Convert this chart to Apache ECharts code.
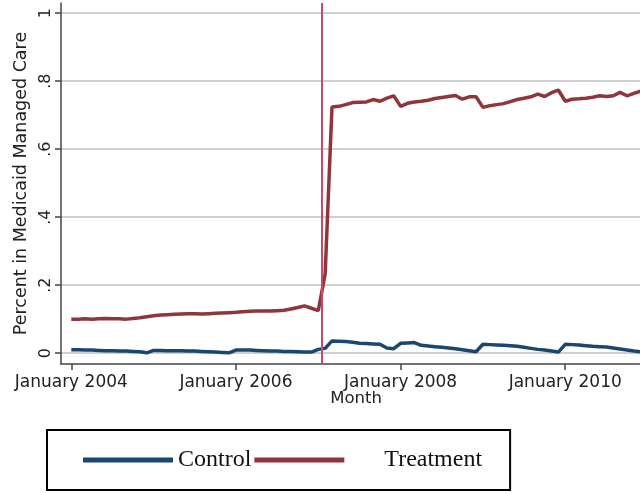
<!DOCTYPE html>
<html>
<head>
<meta charset="utf-8">
<script src="https://cdn.jsdelivr.net/npm/echarts@6/dist/echarts.min.js"></script>
<style>
  html, body { margin: 0; padding: 0; background: #fff; }
  #main { width: 640px; height: 493px; }
</style>
</head>
<body>
<div id="main"></div>
<script>
// month index: 0 = January 2004 ... 83 = December 2010
var control = [
  0.010, 0.010, 0.009, 0.009, 0.008, 0.007, 0.007, 0.006, 0.006, 0.005, 0.004, 0.001,
  0.008, 0.008, 0.007, 0.007, 0.007, 0.006, 0.006, 0.005, 0.004, 0.003, 0.002, 0.001,
  0.009, 0.009, 0.009, 0.008, 0.007, 0.006, 0.006, 0.005, 0.005, 0.004, 0.003, 0.003,
  0.011, 0.014, 0.036, 0.035, 0.034, 0.032, 0.029, 0.028, 0.027, 0.026, 0.015, 0.013,
  0.029, 0.030, 0.031, 0.023, 0.021, 0.019, 0.017, 0.015, 0.013, 0.010, 0.007, 0.004,
  0.026, 0.025, 0.024, 0.023, 0.022, 0.020, 0.017, 0.014, 0.011, 0.009, 0.006, 0.003,
  0.026, 0.025, 0.024, 0.022, 0.020, 0.019, 0.018, 0.015, 0.012, 0.009, 0.006, 0.004
];
var treatment = [
  0.100, 0.100, 0.101, 0.100, 0.101, 0.102, 0.101, 0.101, 0.100, 0.102, 0.104, 0.107,
  0.110, 0.112, 0.113, 0.114, 0.115, 0.116, 0.116, 0.115, 0.116, 0.117, 0.118, 0.119,
  0.120, 0.122, 0.123, 0.124, 0.124, 0.124, 0.125, 0.126, 0.130, 0.134, 0.139, 0.132,
  0.125, 0.232, 0.724, 0.726, 0.731, 0.737, 0.738, 0.739, 0.746, 0.741, 0.750, 0.757,
  0.726, 0.735, 0.739, 0.741, 0.744, 0.749, 0.752, 0.755, 0.758, 0.747, 0.754, 0.754,
  0.723, 0.728, 0.731, 0.734, 0.740, 0.746, 0.750, 0.754, 0.762, 0.755, 0.766, 0.774,
  0.741, 0.747, 0.748, 0.750, 0.753, 0.757, 0.755, 0.757, 0.767, 0.757, 0.764, 0.771
];
var xTickValues = [0, 24, 48, 72];
var xTickLabels = ['January 2004', 'January 2006', 'January 2008', 'January 2010'];
var yTickValues = [0, 0.2, 0.4, 0.6, 0.8, 1];
var yTickLabels = ['0', '.2', '.4', '.6', '.8', '1'];
var policyMonth = 36.5;

function pairs(arr) {
  return arr.map(function (v, i) { return [i, v]; });
}

var chart = echarts.init(document.getElementById('main'));
var axisFont = 'DejaVu Sans';

chart.setOption({
  animation: false,
  // plot region runs a little past the right edge, as in the original (cropped) figure
  grid: { left: 61, width: 590, top: 3, bottom: 129, outerBoundsMode: 'none', containLabel: false },
  xAxis: {
    type: 'value',
    min: -1.5,
    max: 84.5,
    name: 'Month',
    nameLocation: 'middle',
    nameMoveOverlap: false,
    nameGap: 26,
    nameTextStyle: { fontFamily: axisFont, fontSize: 16.5, color: '#222' },
    axisLine: { onZero: false, lineStyle: { color: '#444', width: 1.5 } },
    axisTick: { customValues: xTickValues, length: 6, lineStyle: { color: '#444', width: 1.5 } },
    axisLabel: {
      customValues: xTickValues,
      margin: 10,
      fontFamily: axisFont, fontSize: 17, color: '#222',
      formatter: function (v) { return xTickLabels[xTickValues.indexOf(v)] || ''; }
    },
    splitLine: { show: false }
  },
  yAxis: {
    type: 'value',
    min: -0.032,
    max: 1.03,
    name: 'Percent in Medicaid Managed Care',
    nameLocation: 'middle',
    nameRotate: 90,
    nameGap: 30,
    nameTextStyle: { fontFamily: axisFont, fontSize: 17.5, color: '#222' },
    axisLine: { show: true, onZero: false, lineStyle: { color: '#444', width: 1.5 } },
    axisTick: { show: true, customValues: yTickValues, length: 6, lineStyle: { color: '#444', width: 1.5 } },
    axisLabel: {
      customValues: yTickValues,
      rotate: 90,
      margin: 7,
      fontFamily: axisFont, fontSize: 16, color: '#222',
      formatter: function (v) {
        var i = yTickValues.findIndex(function (t) { return Math.abs(t - v) < 1e-6; });
        return i >= 0 ? yTickLabels[i] : '';
      }
    },
    splitLine: { show: true, lineStyle: { color: '#cfcfcf', width: 2 } }
  },
  legend: {
    left: 47,
    top: 430,
    padding: [18, 28, 18, 36],
    borderColor: '#000',
    borderWidth: 2,
    itemWidth: 90,
    itemHeight: 5,
    itemGap: 3,
    icon: 'rect',
    textStyle: { fontFamily: 'Liberation Serif', fontSize: 24, color: '#111' },
    data: [
      { name: 'Control' },
      { name: 'Treatment', textStyle: { padding: [0, 0, 0, 35] } }
    ]
  },
  series: [
    {
      name: 'Control',
      type: 'line',
      data: pairs(control),
      symbol: 'none',
      color: '#1a476f',
      lineStyle: { width: 3.5 }
    },
    {
      name: 'Treatment',
      type: 'line',
      data: pairs(treatment),
      symbol: 'none',
      color: '#90353b',
      lineStyle: { width: 3.5 },
      markLine: {
        silent: true,
        symbol: 'none',
        label: { show: false },
        lineStyle: { color: '#c84a68', width: 2, type: 'solid' },
        data: [{ xAxis: policyMonth }]
      }
    }
  ]
});
</script>
</body>
</html>
